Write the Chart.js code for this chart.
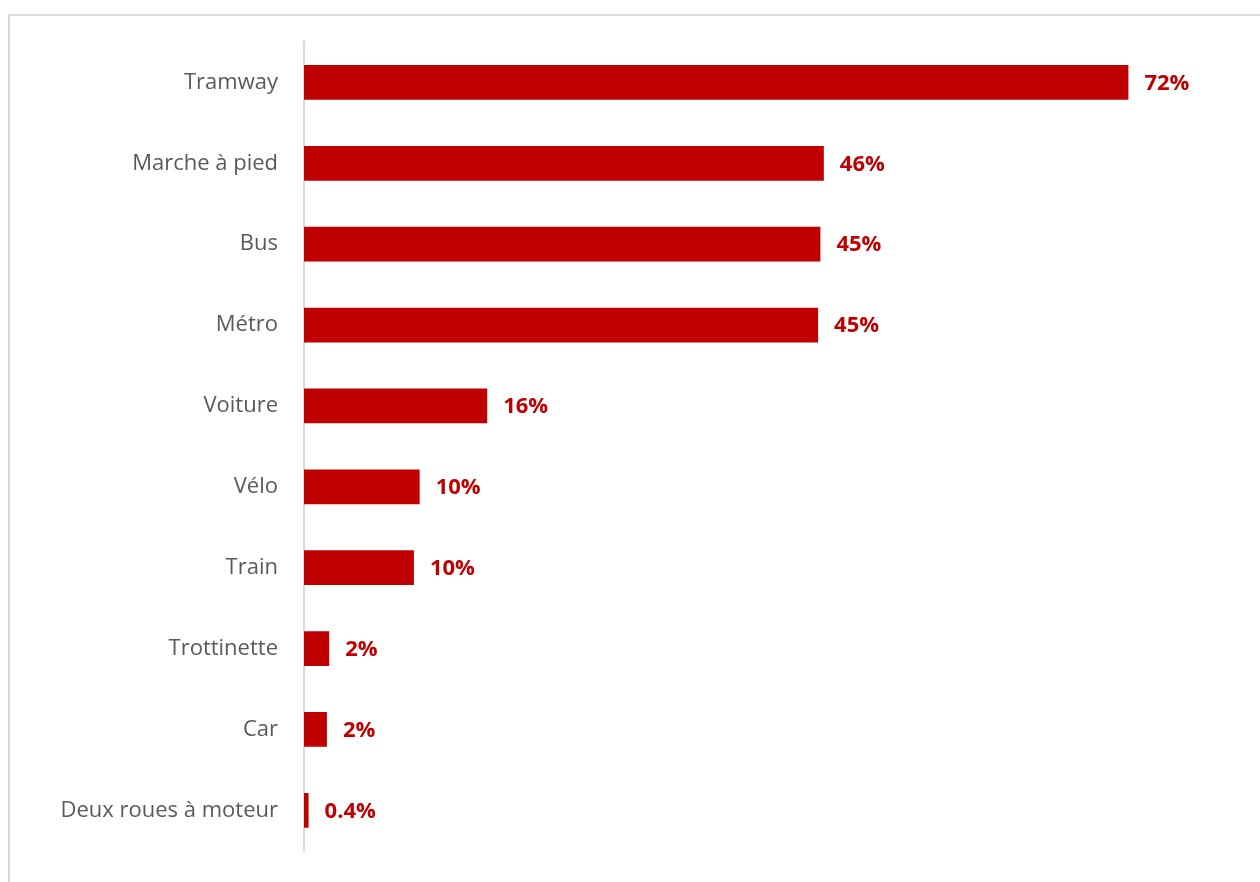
<!DOCTYPE html>
<html>
<head>
<meta charset="utf-8">
<script src="https://cdn.jsdelivr.net/npm/chart.js@4/dist/chart.umd.min.js"></script>
<style>
  html, body { margin: 0; padding: 0; background: #fff; overflow: hidden; }
  #frame { position: absolute; left: 8px; top: 14px; width: 1300px; height: 900px; border: 2px solid #d9d9d9; }
  #wrap { position: absolute; left: 0; top: 0; width: 1260px; height: 882px; }
</style>
</head>
<body>
<div id="frame"></div>
<div id="wrap"><canvas id="chart"></canvas></div>
<script>
const categories = ['Tramway', 'Marche à pied', 'Bus', 'Métro', 'Voiture', 'Vélo', 'Train', 'Trottinette', 'Car', 'Deux roues à moteur'];
const shares = [72, 45.4, 45.1, 44.9, 16, 10.1, 9.6, 2.2, 2.0, 0.4];
const shareLabels = ['72%', '46%', '45%', '45%', '16%', '10%', '10%', '2%', '2%', '0.4%'];

const barColor = '#c00000';
const labelFont = 'Open Sans, sans-serif';

// draws the percentage next to each bar
const valueLabels = {
    id: 'valueLabels',
    afterDatasetsDraw(chart) {
        const ctx = chart.ctx;
        const meta = chart.getDatasetMeta(0);
        ctx.save();
        ctx.fillStyle = barColor;
        ctx.font = 'bold 22px ' + labelFont;
        ctx.textAlign = 'left';
        ctx.textBaseline = 'middle';
        meta.data.forEach((bar, i) => {
            ctx.fillText(shareLabels[i], bar.x + 16, bar.y + 1);
        });
        ctx.restore();
    }
};

new Chart(document.getElementById('chart'), {
    type: 'bar',
    data: {
        labels: categories,
        datasets: [{
            data: shares,
            backgroundColor: barColor,
            borderWidth: 0,
            barPercentage: 0.43,
            categoryPercentage: 1
        }]
    },
    options: {
        indexAxis: 'y',
        responsive: true,
        maintainAspectRatio: false,
        animation: false,
        layout: { padding: { top: 42, bottom: 31, right: 40, left: 0 } },
        plugins: {
            legend: { display: false },
            tooltip: { enabled: false }
        },
        scales: {
            x: {
                display: false,
                min: 0,
                max: 80
            },
            y: {
                grid: { display: false },
                border: { display: true, color: '#d9d9d9', width: 2 },
                ticks: {
                    color: '#595959',
                    padding: 18,
                    font: { family: labelFont, size: 22 }
                },
                afterFit(scale) { scale.width = 304; }
            }
        }
    },
    plugins: [valueLabels]
});
</script>
</body>
</html>
